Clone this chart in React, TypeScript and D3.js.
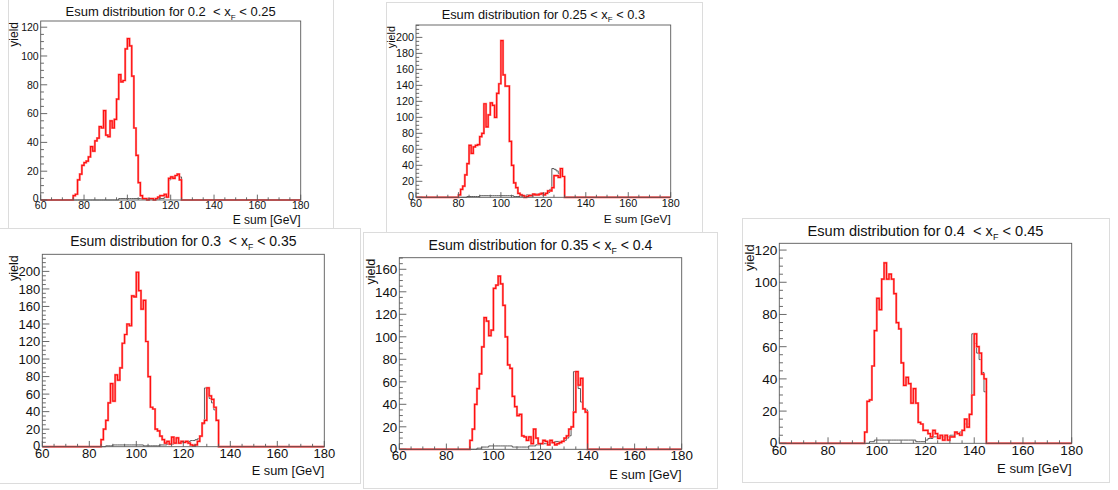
import React, { useEffect } from 'react';
import * as d3 from 'd3';

// ---------- data (1 GeV bins from 60 to 180 GeV) ----------
const X_MIN = 60;
const X_MAX = 180;
const xTickValues = [60, 80, 100, 120, 140, 160, 180];

const titleLow = ['0.2 ', '0.25', '0.3 ', '0.35', '0.4 '];
const titleHigh = ['0.25', '0.3', '0.35', '0.4', '0.45'];

// panel 1 : 0.2 < xF < 0.25
const red1Start = 75;
const red1 = [
  3, 4, 14, 18, 24, 26, 27, 30, 37, 34, 41, 43, 51, 50, 62, 45, 44, 55, 50, 56, 70, 87, 82, 83, 105,
  112, 107, 86, 50, 31, 12, 3, 1,
  1, 0, 1, 1, 0, 1, 2, 3, 3, 4, 2,
  15, 16, 15, 17, 18, 14,
];
const black1Start = 96;
const black1 = [
  1, 1, 1, 1, 1, 1, 1, 1, 1, 1,
  1, 1, 1, 1, 1, 1, 1, 1, 1, 1,
  1, 2, 3,
  14, 15, 16, 17, 18, 16,
];

// panel 2 : 0.25 < xF < 0.3
const red2Start = 80;
const red2 = [
  3, 10, 14, 28, 42, 65, 55, 63, 65, 66,
  76, 80, 117, 88, 103, 118, 115, 100, 130, 142,
  196, 153, 139, 139, 70, 40, 18, 12, 5, 3,
  2, 0, 1, 2, 2, 4, 3, 3, 4, 5,
  3, 5, 8, 8, 12, 27, 27, 25, 36, 26,
];
const black2Start = 84;
const black2 = [
  1, 1, 1, 1, 1, 1, 2, 2, 2, 2,
  2, 2, 2, 2, 2, 2, 2, 2, 2, 2,
  2, 2, 1, 1, 1, 2, 2, 2, 3, 3,
  3, 4, 4, 4, 5, 5,
  5, 5, 6, 10, 36, 35, 33, 30, 28, 26,
];

// panel 3 : 0.3 < xF < 0.35
const red3Start = 85;
const red3 = [
  8, 20, 30, 50, 72, 52, 82, 76, 90, 118, 128, 140, 138, 172, 171,
  199, 178, 157, 167, 120, 80, 45, 43, 20, 18,
  12, 8, 4, 6, 3, 11, 4, 10, 4, 6,
  5, 6, 4, 2, 1, 2, 6, 12, 27, 30,
  67, 58, 54, 45, 30,
];
const black3Start = 87;
const black3 = [
  1, 1, 1, 2, 2, 2, 2, 2, 2, 2,
  2, 2, 2, 2, 2, 2, 1, 1, 1, 1,
  1, 1, 1, 2, 2, 2, 3, 3, 3, 4,
  4, 5, 5, 5, 6, 6, 7, 7, 8, 9,
  12, 26,
  67, 60, 55, 50, 42, 30,
];

// panel 4 : 0.35 < xF < 0.4
const red4Start = 90;
const red4 = [
  8, 18, 40, 54, 67, 91, 117, 114, 101, 106,
  143, 146, 154, 147, 128, 100, 75, 72, 47, 38,
  30, 31, 12, 11, 8, 11, 5, 18, 10, 5,
  5, 8, 7, 4, 8, 6, 4, 5, 6, 7,
  10, 12, 18, 20, 33, 69, 57, 63, 36, 33,
];
const black4Start = 93;
const black4 = [
  1, 1, 2, 2, 2, 3, 3, 3, 3, 3,
  3, 3, 3, 3, 3, 2, 2, 2, 2, 2,
  2, 2, 3, 3, 3, 4, 4, 5, 5, 5,
  6, 6, 6, 7, 7, 7,
  7, 8, 10, 12, 20, 69, 61, 54, 42, 36, 35,
];

// panel 5 : 0.4 < xF < 0.45
const red5Start = 95;
const red5 = [
  7, 26, 27, 48, 70, 90, 83, 102, 112, 102,
  105, 102, 93, 75, 71, 50, 36, 41, 37, 25,
  34, 25, 13, 12, 8, 8, 6, 4, 8, 6,
  3, 5, 2, 5, 2, 4, 4, 7, 6, 5,
  8, 15, 10, 18, 30, 68, 60, 56, 43, 40,
];
const black5Start = 97;
const black5 = [
  1, 1, 2, 2, 2, 2, 2, 2, 2, 2,
  2, 2, 2, 2, 2, 2, 2, 2, 2, 1,
  1, 1, 1, 2, 3, 3, 4, 4, 4, 4,
  4, 4, 4, 5, 5, 6, 6, 7, 8, 12,
  12, 18,
  68, 62, 56, 52, 44, 32,
];

function toBins(start: number, vals: number[]): number[] {
  const arr = new Array(X_MAX - X_MIN).fill(0);
  vals.forEach((v, i) => {
    arr[start - X_MIN + i] = v;
  });
  return arr;
}

// ---------- layout ----------
type PanelCfg = {
  frame: { x: number; y: number; w: number; h: number };
  plot: { l: number; r: number; t: number; b: number };
  yMax: number;
  titleFs: number;
  titleY: number;
  tickFs: number;
  yTitleFs: number;
  yTitleX: number;
  xTitleFs: number;
  xTitleY: number;
  red: number[];
  black: number[];
  low: string;
  high: string;
};

const panels: PanelCfg[] = [
  {
    frame: { x: 8, y: -1, w: 325, h: 230 },
    plot: { l: 40.7, r: 300.7, t: 21, b: 200 },
    yMax: 124.3, titleFs: 13, titleY: 16, tickFs: 10.5,
    yTitleFs: 12, yTitleX: 18, xTitleFs: 12, xTitleY: 224,
    red: toBins(red1Start, red1), black: toBins(black1Start, black1),
    low: titleLow[0], high: titleHigh[0],
  },
  {
    frame: { x: 386, y: 2, w: 316, h: 230 },
    plot: { l: 416, r: 670.7, t: 25, b: 197.3 },
    yMax: 215.5, titleFs: 12.8, titleY: 18.7, tickFs: 10.8,
    yTitleFs: 10.8, yTitleX: 394.5, xTitleFs: 11.8, xTitleY: 222.5,
    red: toBins(red2Start, red2), black: toBins(black2Start, black2),
    low: titleLow[1], high: titleHigh[1],
  },
  {
    frame: { x: -1, y: 228, w: 361, h: 255 },
    plot: { l: 42.3, r: 324.3, t: 254.3, b: 446.7 },
    yMax: 219.5, titleFs: 14, titleY: 245.6, tickFs: 13,
    yTitleFs: 12.5, yTitleX: 17.5, xTitleFs: 12.8, xTitleY: 475,
    red: toBins(red3Start, red3), black: toBins(black3Start, black3),
    low: titleLow[2], high: titleHigh[2],
  },
  {
    frame: { x: 363, y: 232, w: 354, h: 256 },
    plot: { l: 399.3, r: 681.7, t: 257.7, b: 449.3 },
    yMax: 170.3, titleFs: 14.1, titleY: 250, tickFs: 13.4,
    yTitleFs: 12.6, yTitleX: 375.3, xTitleFs: 12.8, xTitleY: 479,
    red: toBins(red4Start, red4), black: toBins(black4Start, black4),
    low: titleLow[3], high: titleHigh[3],
  },
  {
    frame: { x: 742, y: 218, w: 367, h: 264 },
    plot: { l: 779.3, r: 1071.7, t: 243.3, b: 443.3 },
    yMax: 124.2, titleFs: 14.6, titleY: 236, tickFs: 13.6,
    yTitleFs: 13, yTitleX: 754.4, xTitleFs: 13.2, xTitleY: 473,
    red: toBins(red5Start, red5), black: toBins(black5Start, black5),
    low: titleLow[4], high: titleHigh[4],
  },
];

const FONT = '"Liberation Sans", Arial, Helvetica, sans-serif';
const AXIS_COLOR = '#5a5a5a';

function Panel({ cfg }: { cfg: PanelCfg }) {
  const { plot } = cfg;
  const x = d3.scaleLinear().domain([X_MIN, X_MAX]).range([plot.l, plot.r]);
  const y = d3.scaleLinear().domain([0, cfg.yMax]).range([plot.b, plot.t]);

  const stepPath = (vals: number[]) => {
    const pts: [number, number][] = vals.map((v, i) => [X_MIN + i, v]);
    pts.push([X_MAX, vals[vals.length - 1]]);
    return (
      d3
        .line<[number, number]>()
        .x((d) => x(d[0]))
        .y((d) => y(d[1]))
        .curve(d3.curveStepAfter)(pts) || ''
    );
  };

  const plotW = plot.r - plot.l;
  const plotH = plot.b - plot.t;
  const yMajLen = 0.025 * plotW;
  const xMajLen = 0.03 * plotH;

  const xMinor = d3.range(X_MIN, X_MAX + 0.001, 5);
  const yMinor = d3.range(0, cfg.yMax, 5);
  const yMajor = d3.range(0, cfg.yMax, 20);

  const cx = (plot.l + plot.r) / 2;
  const subFs = cfg.titleFs * 0.62;

  return (
    <g fontFamily={FONT}>
      <rect
        x={cfg.frame.x + 0.5}
        y={cfg.frame.y + 0.5}
        width={cfg.frame.w}
        height={cfg.frame.h}
        fill="#fff"
        stroke="#dcdcdc"
        strokeWidth={1}
      />
      {/* title */}
      <text
        x={cx}
        y={cfg.titleY}
        fontSize={cfg.titleFs}
        textAnchor="middle"
        fill="#111"
        style={{ whiteSpace: 'pre' }}
      >
        {`Esum distribution for ${cfg.low} < x`}
        <tspan fontSize={subFs} dy={cfg.titleFs * 0.28}>F</tspan>
        <tspan dy={-cfg.titleFs * 0.28}>{` < ${cfg.high}`}</tspan>
      </text>

      {/* histograms */}
      <path d={stepPath(cfg.black)} fill="none" stroke="#4a4a4a" strokeWidth={0.9} />
      <path d={stepPath(cfg.red)} fill="none" stroke="#ff8d8d" strokeWidth={2.2} />
      <path d={stepPath(cfg.red)} fill="none" stroke="#ff1010" strokeWidth={1.2} />

      {/* frame */}
      <rect
        x={plot.l}
        y={plot.t}
        width={plotW}
        height={plotH}
        fill="none"
        stroke={AXIS_COLOR}
        strokeWidth={0.9}
      />

      {/* x ticks */}
      {xMinor.map((v) => {
        const major = xTickValues.includes(v);
        const len = major ? xMajLen : xMajLen / 2;
        return (
          <line
            key={'xt' + v}
            x1={x(v)}
            x2={x(v)}
            y1={plot.b}
            y2={plot.b - len}
            stroke={AXIS_COLOR}
            strokeWidth={0.9}
          />
        );
      })}
      {xTickValues.map((v) => (
        <text
          key={'xl' + v}
          x={x(v)}
          y={plot.b + 1.5 + 0.716 * cfg.tickFs}
          fontSize={cfg.tickFs}
          textAnchor="middle"
          fill="#111"
        >
          {v}
        </text>
      ))}

      {/* y ticks */}
      {yMinor.map((v) => {
        const major = v % 20 === 0;
        const len = major ? yMajLen : yMajLen / 2;
        return (
          <line
            key={'yt' + v}
            x1={plot.l}
            x2={plot.l + len}
            y1={y(v)}
            y2={y(v)}
            stroke={AXIS_COLOR}
            strokeWidth={0.9}
          />
        );
      })}
      {yMajor.map((v) => (
        <text
          key={'yl' + v}
          x={plot.l - 2}
          y={y(v) + 0.36 * cfg.tickFs - (v === 0 ? 1.5 : 0)}
          fontSize={cfg.tickFs}
          textAnchor="end"
          fill="#111"
        >
          {v}
        </text>
      ))}

      {/* axis titles */}
      <text
        x={plot.r}
        y={cfg.xTitleY}
        fontSize={cfg.xTitleFs}
        textAnchor="end"
        fill="#111"
      >
        E sum [GeV]
      </text>
      <text
        transform={`translate(${cfg.yTitleX},${plot.t + 1}) rotate(-90)`}
        fontSize={cfg.yTitleFs}
        textAnchor="end"
        fill="#111"
      >
        yield
      </text>
    </g>
  );
}

export default function App() {
  useEffect(() => {
    document.body.style.margin = '0';
  }, []);
  return (
    <svg
      width={1118}
      height={490}
      viewBox="0 0 1118 490"
      style={{ position: 'absolute', left: 0, top: 0, background: '#fff' }}
    >
      <rect x={0} y={0} width={1118} height={490} fill="#fff" />
      {panels.map((p, i) => (
        <Panel key={i} cfg={p} />
      ))}
    </svg>
  );
}
